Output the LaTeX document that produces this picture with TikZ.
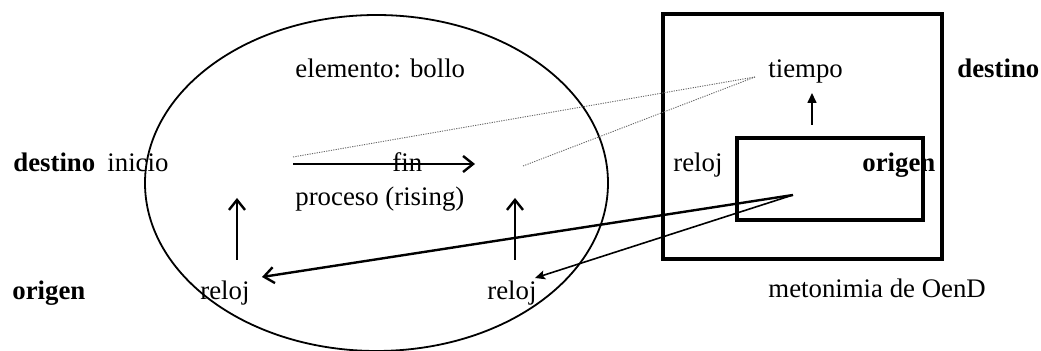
\documentclass[tikz,border=0pt]{standalone}
\usepackage{fontspec}
\setmainfont{Liberation Serif}
\usetikzlibrary{arrows.meta}

\begin{document}
\begin{tikzpicture}[x=0.5pt, y=-0.5pt,
  lbl/.style={anchor=base west, inner sep=0pt, font=\fontsize{13.4}{16}\selectfont},
  lblb/.style={lbl, font=\fontsize{13.4}{16}\selectfont\bfseries},
  flecha/.style={line width=1.2pt, -{Straight Barb[length=5pt, width=8pt]}},
  flechita/.style={line width=0.8pt, -{Stealth[length=5pt, width=4.5pt, inset=1pt]}},
  punteada/.style={gray!80!black, line width=0.45pt, dash pattern=on 0.6pt off 0.6pt}]
  \useasboundingbox (0,0) rectangle (1041,351);

  % Dominio de origen: elipse
  \draw[line width=0.9pt] (376.5,183) ellipse [x radius=115.75pt, y radius=84pt];

  % Dominio de destino: recuadros
  \draw[line width=1.6pt] (663,14) rectangle (942,259);
  \draw[line width=1.6pt] (737,138) rectangle (923,220);

  % Textos
  \node[lbl]  (bollo)   at (295,78)  {elemento: bollo};
  \node[lbl]  (tiempo)  at (768,78)  {tiempo};
  \node[lblb] (destR)   at (957,78)  {destino};
  \node[lblb] (destL)   at (13,172)  {destino};
  \node[lbl]  (inicio)  at (107,172) {inicio};
  \node[lbl]  (fin)     at (392,172) {fin};
  \node[lbl]  (relojR)  at (673,172) {reloj};
  \node[lblb] (origR)   at (862,172) {origen};
  \node[lbl]  (proceso) at (295,206) {proceso (rising)};
  \node[lblb] (origL)   at (12,300)  {origen};
  \node[lbl]  (reloj1)  at (200,300) {reloj};
  \node[lbl]  (reloj2)  at (487,300) {reloj};
  \node[lbl]  (meto)    at (768,298) {metonimia de OenD};

  % Extremos de las flechas
  \coordinate (ini)  at (293,164);
  \coordinate (fi)   at (475,164);
  \coordinate (iniP) at (293,157);
  \coordinate (fiP)  at (523,166);
  \coordinate (tP)   at (755,77);
  \coordinate (up1a) at (237,260);
  \coordinate (up1b) at (237,198);
  \coordinate (up2a) at (515,260);
  \coordinate (up2b) at (515,198);
  \coordinate (tA)   at (812,125);
  \coordinate (tB)   at (812,93);
  \coordinate (o)    at (793,195);
  \coordinate (r1)   at (262,277);
  \coordinate (r2)   at (535,278);

  % Conexiones
  \draw[flecha] (ini) -- (fi);
  \draw[punteada] (iniP) -- (tP);
  \draw[punteada] (fiP) -- (tP);
  \draw[flecha] (up1a) -- (up1b);
  \draw[flecha] (up2a) -- (up2b);
  \draw[line width=0.8pt, -{Triangle[length=5pt, width=4.5pt]}] (tA) -- (tB);
  \draw[flecha] (o) -- (r1);
  \draw[flechita] (o) -- (r2);
\end{tikzpicture}
\end{document}
